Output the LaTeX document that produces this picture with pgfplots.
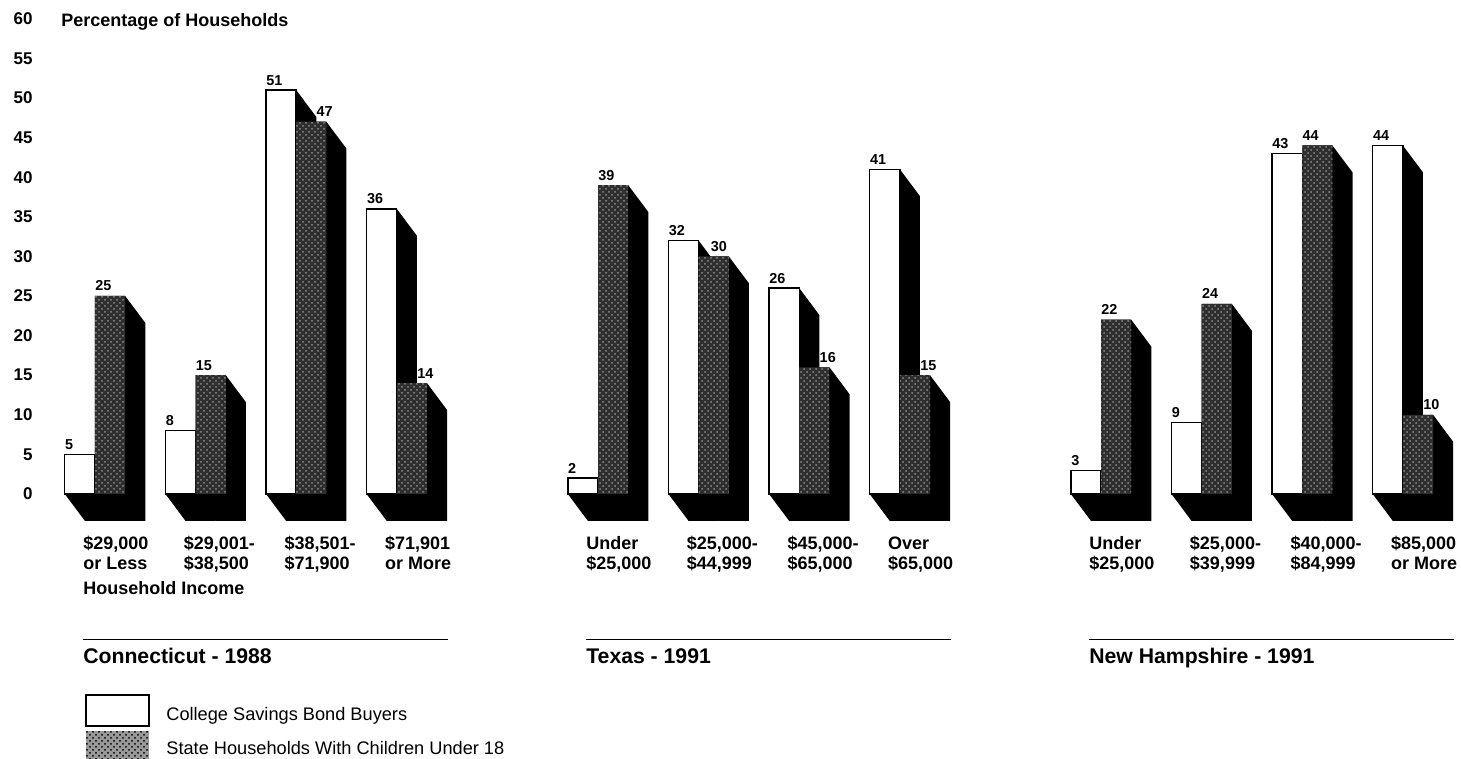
\documentclass[border=0pt]{standalone}
\usepackage{fontspec}
\setmainfont{Liberation Sans}
\usepackage{pgfplots}
\pgfplotsset{compat=1.18}
\usepackage{pgfplotstable}
\usetikzlibrary{patterns}

% income brackets: slot on the x axis, bond buyers (%), state households (%)
\pgfplotstableread{
pos bond state
0  5  25
1  8  15
2  51 47
3  36 14
5  2  39
6  32 30
7  26 16
8  41 15
10 3  22
11 9  24
12 43 44
13 44 10
}\incomedata

\newcommand\barw{0.3}  % width of one bar
\newcommand\depx{0.2}  % depth of the side face, to the right
\newcommand\depy{3.4}  % depth of the side face, downwards

% two-line bracket name with a fixed first-line height
\newcommand\bracket[2]{\rule{0pt}{8.2pt}#1\\#2}

\tikzset{
  shadowface/.style={fill=black, draw=none},
  vallabel/.style={font=\bfseries\fontsize{7.2}{8}\selectfont, anchor=base west, inner sep=0pt, yshift=2.5pt},
  grouptitle/.style={font=\bfseries\fontsize{10.6}{12}\selectfont, anchor=base west, inner sep=0pt},
  boldnote/.style={font=\bfseries\fontsize{9}{10}\selectfont, anchor=base west, inner sep=0pt},
  legendtext/.style={font=\fontsize{9.1}{11}\selectfont, anchor=base west, inner sep=0pt},
}

\begin{document}
\begin{tikzpicture}
\begin{axis}[
  scale only axis,
  width=730.5pt, height=379.5pt,
  xmin=-0.944, xmax=13.578,
  ymin=-33.46, ymax=62.37,
  clip=false,
  axis line style={draw=none},
  major tick length=0pt,
  ytick={0,5,...,60},
  /pgf/number format/assume math mode=true,
  yticklabel style={font=\bfseries\fontsize{8.5}{10}\selectfont, anchor=east, inner sep=0pt, xshift=16.5pt},
  xtick={0,1,2,3,5,6,7,8,10,11,12,13},
  xticklabels={{\bracket{\$29,000}{or Less}},{\bracket{\$29,001-}{\$38,500}},
               {\bracket{\$38,501-}{\$71,900}},{\bracket{\$71,901}{or More}},
               {\bracket{Under}{\$25,000}},{\bracket{\$25,000-}{\$44,999}},
               {\bracket{\$45,000-}{\$65,000}},{\bracket{Over}{\$65,000}},
               {\bracket{Under}{\$25,000}},{\bracket{\$25,000-}{\$39,999}},
               {\bracket{\$40,000-}{\$84,999}},{\bracket{\$85,000}{or More}}},
  xticklabel style={font=\bfseries\fontsize{9}{10}\selectfont, align=left, anchor=north west,
                    inner sep=0pt, xshift=-6.04pt, yshift=113pt},
]

% side faces and floor shadow of every bar
\pgfplotstablegetrowsof{\incomedata}
\pgfmathtruncatemacro{\lastrow}{\pgfplotsretval-1}
\pgfplotsforeachungrouped \rowi in {0,...,\lastrow}{%
  \pgfplotstablegetelem{\rowi}{pos}\of\incomedata \let\vp\pgfplotsretval
  \pgfplotstablegetelem{\rowi}{bond}\of\incomedata \let\vb\pgfplotsretval
  \pgfplotstablegetelem{\rowi}{state}\of\incomedata \let\vs\pgfplotsretval
  \pgfmathsetmacro\xa{\vp-\barw}
  \pgfmathsetmacro\xad{\xa+\depx}
  \pgfmathsetmacro\xbd{\vp+\depx}
  \pgfmathsetmacro\xc{\vp+\barw}
  \pgfmathsetmacro\xcd{\xc+\depx}
  \pgfmathsetmacro\yb{\vb-\depy}
  \pgfmathsetmacro\ys{\vs-\depy}
  \pgfmathsetmacro\yf{-\depy}
  \edef\drawpair{%
    \noexpand\addplot[shadowface] coordinates {(\xa,\vb) (\vp,\vb) (\xbd,\yb) (\xbd,\yf) (\xad,\yf) (\xa,0)} -- cycle;
    \noexpand\addplot[shadowface] coordinates {(\vp,\vs) (\xc,\vs) (\xcd,\ys) (\xcd,\yf) (\xbd,\yf) (\vp,0)} -- cycle;
  }%
  \drawpair
}

% front faces
\addplot[ybar, bar width=\barw, bar shift=-0.15, fill=white, draw=black, line width=0.7pt]
  table[x=pos, y=bond] {\incomedata};
\addplot[ybar, bar width=\barw, bar shift=0.15, fill=black!82, draw=none,
  postaction={pattern=crosshatch dots, pattern color=black!45}]
  table[x=pos, y=state] {\incomedata};

% value labels; the dark bar's label starts past the light bar's side face
\pgfplotsforeachungrouped \rowi in {0,...,\lastrow}{%
  \pgfplotstablegetelem{\rowi}{pos}\of\incomedata \let\vp\pgfplotsretval
  \pgfplotstablegetelem{\rowi}{bond}\of\incomedata \let\vb\pgfplotsretval
  \pgfplotstablegetelem{\rowi}{state}\of\incomedata \let\vs\pgfplotsretval
  \pgfmathsetmacro\xa{\vp-\barw}
  \pgfmathsetmacro\xl{\vp+\depx*min(1,max(0,(\vb-\vs)/\depy))}
  \edef\drawlabels{%
    \noexpand\node[vallabel] at (axis cs:\xa,\vb) {\vb};
    \noexpand\node[vallabel] at (axis cs:\xl,\vs) {\vs};
  }%
  \drawlabels
}

\node[boldnote] at (axis cs:-0.338,58.96) {Percentage of Households};
\node[boldnote] at (axis cs:-0.119,-12.63) {Household Income};

% state headings
\draw[line width=0.75pt] (axis cs:-0.12,-18.37) -- (axis cs:3.51,-18.37);
\node[grouptitle] at (axis cs:-0.12,-21.4) {Connecticut - 1988};
\draw[line width=0.75pt] (axis cs:4.88,-18.37) -- (axis cs:8.51,-18.37);
\node[grouptitle] at (axis cs:4.88,-21.4) {Texas - 1991};
\draw[line width=0.75pt] (axis cs:9.88,-18.37) -- (axis cs:13.51,-18.37);
\node[grouptitle] at (axis cs:9.88,-21.4) {New Hampshire - 1991};

% legend
\draw[line width=0.7pt, fill=white] (axis cs:-0.09,-25.38) rectangle (axis cs:0.537,-29.29);
\fill[black!40, postaction={pattern=crosshatch dots, pattern color=black}]
  (axis cs:-0.09,-29.92) rectangle (axis cs:0.537,-34.2);
\node[legendtext] at (axis cs:0.706,-28.54) {College Savings Bond Buyers};
\node[legendtext] at (axis cs:0.706,-32.95) {State Households With Children Under 18};

\coordinate (pic-sw) at (rel axis cs:0,0);
\coordinate (pic-ne) at (rel axis cs:1,1);
\end{axis}
\pgfresetboundingbox
\path (pic-sw) rectangle (pic-ne);
\end{tikzpicture}
\end{document}
